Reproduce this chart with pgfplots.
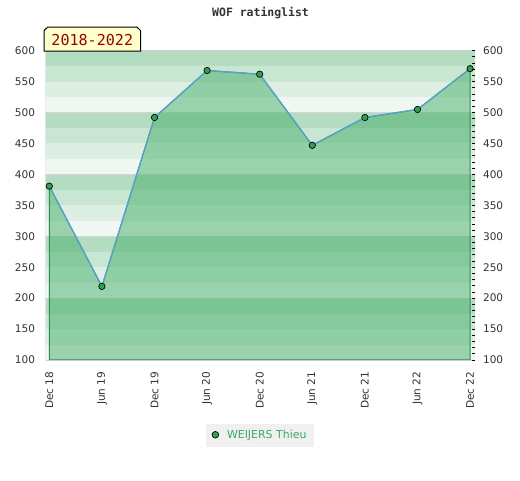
\documentclass[border=0pt]{standalone}
\usepackage{fontspec}
\setmainfont{DejaVu Sans}
\newfontfamily\monofont{DejaVu Sans Mono}
\usepackage{pgfplots}
\pgfplotsset{compat=1.18}
\definecolor{bandA}{HTML}{F0F7F2}
\definecolor{bandB}{HTML}{DCEFE2}
\definecolor{bandC}{HTML}{C8E6D2}
\definecolor{bandD}{HTML}{B3DCC0}
\definecolor{fillgreen}{HTML}{45AE6A}
\definecolor{edgegreen}{HTML}{2A8F48}
\definecolor{lineblue}{HTML}{5A9FD8}
\definecolor{markgreen}{HTML}{30A050}
\definecolor{gridgray}{HTML}{D4D4D4}
\definecolor{framegray}{HTML}{CCCCCC}
\definecolor{ticktext}{HTML}{333333}
\definecolor{legendtext}{HTML}{3BAA5E}
\definecolor{legendbg}{HTML}{F0F0F0}
\definecolor{boxfill}{HTML}{FFFFCC}
\definecolor{boxtext}{HTML}{990000}
\newcommand{\band}[3]{\addplot[fill=#3,draw=none,forget plot] coordinates {(-1,#1) (9,#1) (9,#2) (-1,#2)} -- cycle;}
\begin{document}
\begin{tikzpicture}
\useasboundingbox (0,0) rectangle (390pt,360pt);
\begin{axis}[
  at={(34.3pt,90pt)}, anchor=south west,
  scale only axis, width=322pt, height=232pt,
  xmin=-0.068, xmax=8.095, ymin=100, ymax=600,
  xtick={0,...,8},
  xticklabels={Dec 18,Jun 19,Dec 19,Jun 20,Dec 20,Jun 21,Dec 21,Jun 22,Dec 22},
  ytick={100,150,...,600},
  major tick length=0pt,
  axis line style={draw=none},
  tick label style={font=\fontsize{7.9}{9}\selectfont, text=ticktext},
  /pgf/number format/assume math mode=true,
  xticklabel style={rotate=90, anchor=east, inner sep=0pt},
  yticklabel style={anchor=east, inner sep=0pt},
  xticklabel shift=8.5pt, yticklabel shift=7.8pt,
  legend style={at={(axis description cs:0.5,-0.2446)}, anchor=center,
    fill=legendbg, draw=none, font=\fontsize{8.2}{9}\selectfont,
    text=legendtext, inner xsep=4pt, inner ysep=3pt, column sep=4pt},
]
% background bands
\band{100}{125}{bandA}\band{125}{150}{bandB}\band{150}{175}{bandC}\band{175}{200}{bandD}
\band{200}{225}{bandA}\band{225}{250}{bandB}\band{250}{275}{bandC}\band{275}{300}{bandD}
\band{300}{325}{bandA}\band{325}{350}{bandB}\band{350}{375}{bandC}\band{375}{400}{bandD}
\band{400}{425}{bandA}\band{425}{450}{bandB}\band{450}{475}{bandC}\band{475}{500}{bandD}
\band{500}{525}{bandA}\band{525}{550}{bandB}\band{550}{575}{bandC}\band{575}{600}{bandD}
% grid lines
\addplot[gridgray, line width=0.75pt, forget plot] coordinates {(-1,200) (9,200)};
\addplot[gridgray, line width=0.75pt, forget plot] coordinates {(-1,300) (9,300)};
\addplot[gridgray, line width=0.75pt, forget plot] coordinates {(-1,400) (9,400)};
\addplot[gridgray, line width=0.75pt, forget plot] coordinates {(-1,500) (9,500)};
% area
\addplot[fill=fillgreen, fill opacity=0.5, draw=edgegreen, draw opacity=1, line width=0.8pt, forget plot]
  coordinates {(0,381) (1,219) (2,492) (3,568) (4,562) (5,447) (6,492) (7,505) (8,571)} \closedcycle;
% line
\addplot[color=lineblue, line width=0.9pt, mark=*, mark size=2.4pt,
  mark options={fill=markgreen, draw=black, line width=0.5pt},
  legend image code/.code={\node[circle,draw=black,fill=markgreen,inner sep=0pt,minimum size=5pt,line width=0.5pt] at (0pt,0.7pt) {};}]
  coordinates {(0,381) (1,219) (2,492) (3,568) (4,562) (5,447) (6,492) (7,505) (8,571)};
\addlegendentry{WEIJERS Thieu}
% frame
\draw[framegray, line width=0.75pt] (rel axis cs:0,0) -- (rel axis cs:0,1) -- (rel axis cs:1,1);
\draw[framegray, line width=0.75pt] (rel axis cs:0,0) -- (rel axis cs:1,0);
\end{axis}
\begin{axis}[
  at={(34.3pt,90pt)}, anchor=south west,
  scale only axis, width=322pt, height=232pt,
  xmin=-0.068, xmax=8.095, ymin=100, ymax=600,
  hide x axis, axis y line*=right,
  axis line style={draw=none},
  ytick={100,150,...,600}, minor y tick num=4,
  tick align=inside, major tick length=2.3pt, minor tick length=2.3pt,
  every tick/.style={black, line width=0.6pt},
  tick label style={font=\fontsize{7.9}{9}\selectfont, text=ticktext},
  /pgf/number format/assume math mode=true,
  yticklabel style={anchor=west, inner sep=0pt},
  yticklabel shift=5.8pt,
]
\addplot[draw=none] coordinates {(0,100)};
\end{axis}
\node[font=\monofont\bfseries\fontsize{8.6}{10}\selectfont, text=ticktext] at (195.4pt,350.2pt) {WOF ratinglist};
\filldraw[fill=boxfill, draw=black, line width=0.75pt]
  (33pt,321.75pt) -- (33pt,337pt) -- (35.8pt,339.75pt) -- (102.7pt,339.75pt) -- (105.5pt,337pt) -- (105.5pt,321.75pt) -- cycle;
\node[font=\monofont\fontsize{11.3}{12}\selectfont, text=boxtext] at (69.2pt,330pt) {2018-2022};
\end{tikzpicture}
\end{document}
